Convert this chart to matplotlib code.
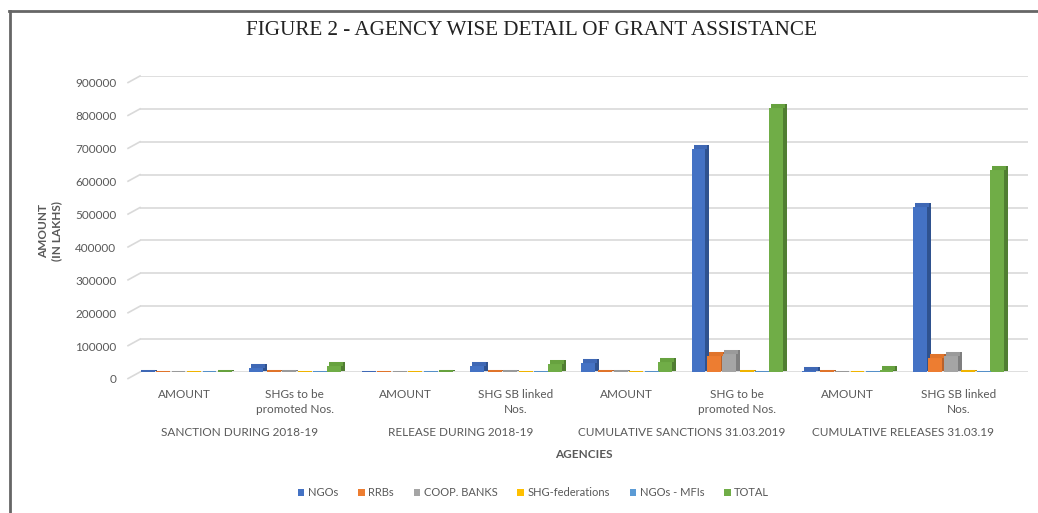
## Agency wise detail of grant assistance - clustered bars with a bit of depth
import numpy as np
import matplotlib
matplotlib.use('Agg')
import matplotlib.pyplot as plt
from matplotlib.lines import Line2D
from matplotlib.transforms import ScaledTranslation, offset_copy

## data (amounts in lakhs)
categories = ['AMOUNT', 'SHGs to be\npromoted Nos.', 'AMOUNT', 'SHG SB linked\nNos.',
              'AMOUNT', 'SHG to be\npromoted Nos.', 'AMOUNT', 'SHG SB linked\nNos.']
groups = ['SANCTION DURING 2018-19', 'RELEASE DURING 2018-19',
          'CUMULATIVE SANCTIONS 31.03.2019', 'CUMULATIVE RELEASES 31.03.19']
series = ['NGOs', 'RRBs', 'COOP. BANKS', 'SHG-federations', 'NGOs - MFIs', 'TOTAL']
ngos      = [3000, 22000, 1200, 28000, 36000, 688000, 12000, 510000]
rrbs      = [600, 2500, 300, 2500, 2000, 58000, 1500, 52000]
coop      = [400, 1500, 200, 3000, 1500, 64000, 1000, 58000]
shg_fed   = [200, 500, 100, 500, 500, 1500, 300, 1500]
ngos_mfis = [100, 300, 100, 300, 300, 800, 200, 800]
total     = [4300, 26800, 1900, 34300, 40300, 812300, 15000, 622300]
yticks = np.arange(0, 900001, 100000)

colors = ['#4472C4', '#ED7D31', '#A5A5A5', '#FFC000', '#5B9BD5', '#70AD47']
tops   = ['#3F68B5', '#E0742B', '#9A9A9A', '#F0B400', '#5590C8', '#67A23F']
sides  = ['#2F528F', '#B8612A', '#7F7F7F', '#C79600', '#41719C', '#507E32']
grey = '#595959'

plt.rcParams['font.family'] = ['Lato', 'DejaVu Sans']
fig = plt.figure(figsize=(10.38, 5.13), dpi=100)
ax = fig.add_axes([0.1349, 0.2749, 0.8555, 0.5770])

vals = [ngos, rrbs, coop, shg_fed, ngos_mfis, total]
x = np.arange(len(categories))
w = 0.14
bw = w * 0.9
front = offset_copy(ax.transData, fig=fig, x=0, y=-3, units='dots')
depth = offset_copy(ax.transData, fig=fig, x=4, y=1, units='dots')
topf = offset_copy(ax.transData, fig=fig, x=2, y=-1, units='dots')
for i, v in enumerate(vals):
    xs = x + (i - 2.5) * w
    # side face: darker shifted copy behind the front face
    ax.bar(xs, v, bw, color=sides[i], transform=depth, zorder=2)
    ax.bar(xs, v, bw, color=colors[i], label=series[i], transform=front, zorder=3)
    # top face, a thin slab at the bar's value
    ax.hlines(v, xs - bw / 2, xs + bw / 2, colors=tops[i], linewidth=2.9,
              transform=topf, zorder=4, capstyle='butt')

ax.set_xlim(-0.40, 7.63)
ax.set_ylim(0, 900000)
ax.set_yticks(yticks)
ax.set_yticklabels([str(t) for t in yticks], fontsize=8.5, color=grey)
ax.tick_params(axis='y', length=0, pad=17)
for lab in ax.get_yticklabels():
    lab.set_transform(lab.get_transform() + ScaledTranslation(0, -5/72, fig.dpi_scale_trans))
ax.grid(axis='y', color='#d9d9d9', linewidth=1.2, zorder=0)
# slanted floor edge of each gridline
for t in yticks:
    ax.plot([-0.0135, 0], [t - 20000, t], color='#d9d9d9', linewidth=1.2,
            transform=ax.get_yaxis_transform(), clip_on=False, zorder=0)
for s in ax.spines.values():
    s.set_visible(False)

ax.set_xticks(x)
ax.set_xticklabels(categories, fontsize=8.5, color=grey, linespacing=1.5)
ax.tick_params(axis='x', length=0, pad=12)
for k, g in enumerate(groups):
    ax.text(2 * k + 0.5, -0.205, g, transform=ax.get_xaxis_transform(),
            ha='center', va='center', fontsize=8.5, color=grey)
ax.text(0.5, -0.28, 'AGENCIES', transform=ax.transAxes, ha='center', va='center',
        fontsize=8.5, color=grey, fontweight='bold')
fig.text(0.048, 0.55, 'AMOUNT\n(IN LAKHS)', rotation=90, ha='center', va='center',
         fontsize=8.5, color=grey, fontweight='bold', linespacing=1.2)

fig.text(0.512, 0.94, 'FIGURE 2 - AGENCY WISE DETAIL OF GRANT ASSISTANCE',
         ha='center', va='center', fontsize=15.2, family='Liberation Serif', color='#222222')

fig.legend(loc='center', bbox_to_anchor=(0.514, 0.04), ncol=6, frameon=False,
           fontsize=8, handlelength=0.6, handleheight=0.6, handletextpad=0.3,
           columnspacing=1.8, labelcolor=grey)

# frame around the figure (left and top edges)
fig.add_artist(Line2D([0.0092, 0.0092], [0, 0.978], color='#666666', linewidth=2))
fig.add_artist(Line2D([0.0083, 1.0], [0.978, 0.978], color='#666666', linewidth=2))

plt.savefig('out.png', dpi=100)
